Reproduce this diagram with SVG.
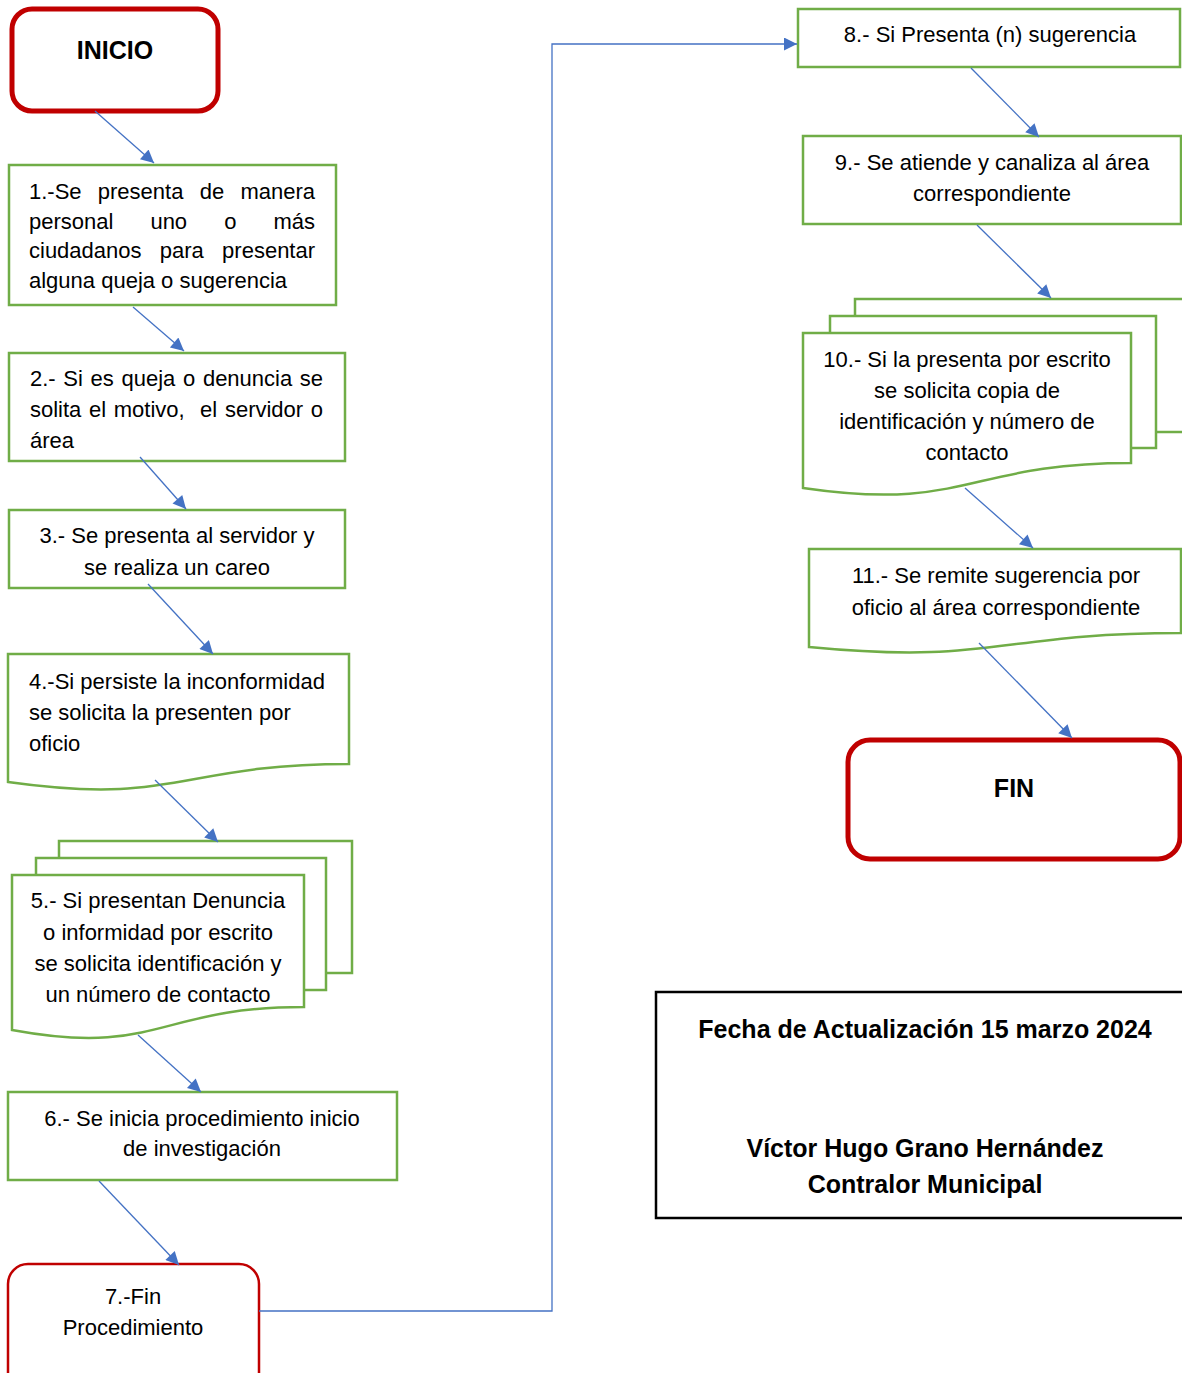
<svg xmlns="http://www.w3.org/2000/svg" width="1182" height="1373" viewBox="0 0 1182 1373">
<style>
.t{font-family:"Liberation Sans",Arial,sans-serif;font-size:22px;fill:#000}
.b{font-family:"Liberation Sans",Arial,sans-serif;font-size:25px;font-weight:bold;fill:#000}
.c{text-anchor:middle}
.g{fill:#fff;stroke:#70AD47;stroke-width:2.5}
.r{fill:#fff;stroke:#C00000;stroke-width:5}
.r2{fill:#fff;stroke:#C00000;stroke-width:2.5}
.k{fill:#fff;stroke:#000;stroke-width:2.5}
.cn{fill:none;stroke:#4472C4;stroke-width:1.3}
</style>
<defs>
<marker id="ah" viewBox="0 0 10 10" refX="10" refY="5" markerWidth="17" markerHeight="13" markerUnits="userSpaceOnUse" orient="auto">
<path d="M0,0 L10,5 L0,10 z" fill="#4472C4"/>
</marker>
</defs>
<rect width="1182" height="1373" fill="#fff"/>

<g id="inicio">
<rect class="r" x="12" y="9" width="206" height="102" rx="20"/>
<text class="b c" x="115" y="59">INICIO</text>
</g>

<g id="n1">
<rect class="g" x="9" y="165" width="327" height="140"/>
<text class="t"><tspan x="29" y="199">1.-Se</tspan><tspan x="97.8" y="199">presenta</tspan><tspan x="199.7" y="199">de</tspan><tspan x="240.4" y="199">manera</tspan></text>
<text class="t"><tspan x="29" y="229">personal</tspan><tspan x="150.4" y="229">uno</tspan><tspan x="224.2" y="229">o</tspan><tspan x="273.4" y="229">más</tspan></text>
<text class="t"><tspan x="29" y="258">ciudadanos</tspan><tspan x="159.8" y="258">para</tspan><tspan x="222.1" y="258">presentar</tspan></text>
<text class="t" x="29" y="288">alguna queja o sugerencia</text>
</g>

<g id="n2">
<rect class="g" x="9" y="353" width="336" height="108"/>
<text class="t"><tspan x="30" y="386">2.-</tspan><tspan x="63.3" y="386">Si</tspan><tspan x="90.6" y="386">es</tspan><tspan x="121.5" y="386">queja</tspan><tspan x="183" y="386">o</tspan><tspan x="202.9" y="386">denuncia</tspan><tspan x="299.8" y="386">se</tspan></text>
<text class="t"><tspan x="30" y="417">solita</tspan><tspan x="89" y="417">el</tspan><tspan x="113.8" y="417">motivo,</tspan><tspan x="200.1" y="417">el</tspan><tspan x="224.9" y="417">servidor</tspan><tspan x="310.8" y="417">o</tspan></text>
<text class="t" x="30" y="448">área</text>
</g>

<g id="n3">
<rect class="g" x="9" y="510" width="336" height="78"/>
<text class="t c" x="177" y="543">3.- Se presenta al servidor y</text>
<text class="t c" x="177" y="575">se realiza un careo</text>
</g>

<g id="n4">
<path class="g" d="M8,654 H349 V764 C178.5,764 178.5,806 8,782 Z"/>
<text class="t" x="29" y="689">4.-Si persiste la inconformidad</text>
<text class="t" x="29" y="720">se solicita la presenten por</text>
<text class="t" x="29" y="751">oficio</text>
</g>

<g id="n5">
<rect class="g" x="59" y="841" width="293" height="132"/>
<rect class="g" x="36" y="858" width="290" height="132"/>
<path class="g" d="M12,875 H304 V1007 C158,1007 158,1057 12,1030 Z"/>
<text class="t c" x="158" y="908">5.- Si presentan Denuncia</text>
<text class="t c" x="158" y="940">o informidad por escrito</text>
<text class="t c" x="158" y="971">se solicita identificación y</text>
<text class="t c" x="158" y="1002">un número de contacto</text>
</g>

<g id="n6">
<rect class="g" x="8" y="1092" width="389" height="88"/>
<text class="t c" x="202" y="1126">6.- Se inicia procedimiento inicio</text>
<text class="t c" x="202" y="1156">de investigación</text>
</g>

<g id="n7">
<rect class="r2" x="8" y="1264" width="251" height="130" rx="20"/>
<text class="t c" x="133" y="1304">7.-Fin</text>
<text class="t c" x="133" y="1335">Procedimiento</text>
</g>

<g id="n8">
<rect class="g" x="798" y="9" width="382" height="58"/>
<text class="t c" x="990" y="42">8.- Si Presenta (n) sugerencia</text>
</g>

<g id="n9">
<rect class="g" x="803" y="136" width="378" height="88"/>
<text class="t c" x="992" y="170">9.- Se atiende y canaliza al área</text>
<text class="t c" x="992" y="201">correspondiente</text>
</g>

<g id="n10">
<rect class="g" x="855" y="299" width="345" height="133"/>
<rect class="g" x="830" y="316" width="326" height="132"/>
<path class="g" d="M803,333 H1131 V463 C967,463 967,512 803,488 Z"/>
<text class="t c" x="967" y="367">10.- Si la presenta por escrito</text>
<text class="t c" x="967" y="398">se solicita copia de</text>
<text class="t c" x="967" y="429">identificación y número de</text>
<text class="t c" x="967" y="460">contacto</text>
</g>

<g id="n11">
<path class="g" d="M809,549 H1181 V633 C995,633 995,665 809,647 Z"/>
<text class="t c" x="996" y="583">11.- Se remite sugerencia por</text>
<text class="t c" x="996" y="615">oficio al área correspondiente</text>
</g>

<g id="fin">
<rect class="r" x="848" y="740" width="332" height="119" rx="22"/>
<text class="b c" x="1014" y="797">FIN</text>
</g>

<g id="info">
<rect class="k" x="656" y="992" width="545" height="226"/>
<text class="b c" x="925" y="1038">Fecha de Actualización 15 marzo 2024</text>
<text class="b c" x="925" y="1157">Víctor Hugo Grano Hernández</text>
<text class="b c" x="925" y="1193">Contralor Municipal</text>
</g>

<g id="connectors">
<line class="cn" x1="95" y1="111" x2="154" y2="163" marker-end="url(#ah)"/>
<line class="cn" x1="133" y1="307" x2="184" y2="351" marker-end="url(#ah)"/>
<line class="cn" x1="140" y1="457" x2="186" y2="509" marker-end="url(#ah)"/>
<line class="cn" x1="148" y1="584" x2="213" y2="654" marker-end="url(#ah)"/>
<line class="cn" x1="155" y1="780" x2="218" y2="842" marker-end="url(#ah)"/>
<line class="cn" x1="138" y1="1035" x2="201" y2="1092" marker-end="url(#ah)"/>
<line class="cn" x1="99" y1="1181" x2="179" y2="1265" marker-end="url(#ah)"/>
<polyline class="cn" points="259,1311 552,1311 552,44 797,44" marker-end="url(#ah)"/>
<line class="cn" x1="971" y1="68" x2="1039" y2="137" marker-end="url(#ah)"/>
<line class="cn" x1="977" y1="225" x2="1051" y2="298" marker-end="url(#ah)"/>
<line class="cn" x1="965" y1="488" x2="1033" y2="548" marker-end="url(#ah)"/>
<line class="cn" x1="979" y1="643" x2="1072" y2="738" marker-end="url(#ah)"/>
</g>
</svg>
